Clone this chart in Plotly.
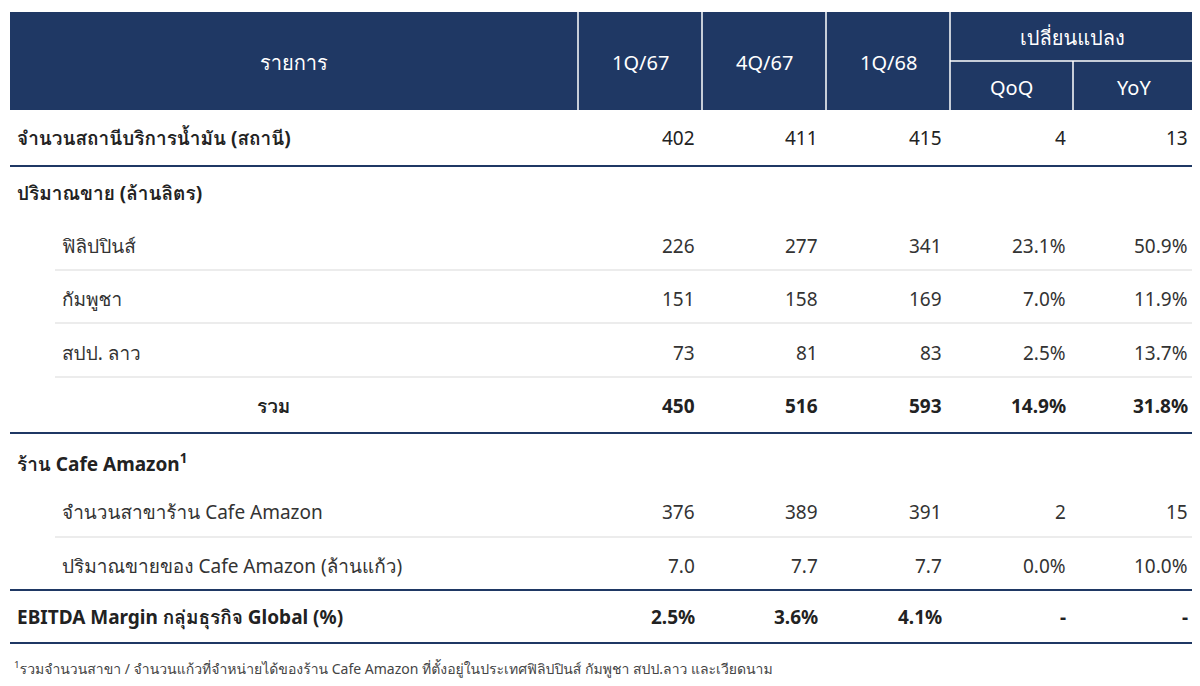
import plotly.graph_objects as go

# ── Data ──────────────────────────────────────────────────────────────────────
periods = ["1Q/67", "4Q/67", "1Q/68"]
changes = ["QoQ", "YoY"]
row_labels = [
    "จำนวนสถานีบริการน้ำมัน (สถานี)",
    "ปริมาณขาย (ล้านลิตร)",
    "ฟิลิปปินส์",
    "กัมพูชา",
    "สปป. ลาว",
    "รวม",
    "ร้าน Cafe Amazon<sup>1</sup>",
    "จำนวนสาขาร้าน Cafe Amazon",
    "ปริมาณขายของ Cafe Amazon (ล้านแก้ว)",
    "EBITDA Margin กลุ่มธุรกิจ Global (%)",
]
values = [
    ["402", "411", "415", "4", "13"],
    [],
    ["226", "277", "341", "23.1%", "50.9%"],
    ["151", "158", "169", "7.0%", "11.9%"],
    ["73", "81", "83", "2.5%", "13.7%"],
    ["450", "516", "593", "14.9%", "31.8%"],
    [],
    ["376", "389", "391", "2", "15"],
    ["7.0", "7.7", "7.7", "0.0%", "10.0%"],
    ["2.5%", "3.6%", "4.1%", "-", "-"],
]
footnote = ("<sup>1</sup>รวมจำนวนสาขา / จำนวนแก้วที่จำหน่ายได้ของร้าน Cafe Amazon "
            "ที่ตั้งอยู่ในประเทศฟิลิปปินส์ กัมพูชา สปป.ลาว และเวียดนาม")

# ── Styling / layout ──────────────────────────────────────────────────────────
NAVY = "#1f3864"
TXT = "#333333"
GREY = "#d9d9d9"
FONT = "Noto Sans, Loma, Garuda, Tahoma, sans-serif"
row_y = [138, 193, 246, 299, 353, 406, 463, 512, 566, 617]
row_indent = [15, 15, 60, 60, 60, 255, 15, 60, 60, 15]
row_bold = [True, True, False, False, False, True, True, False, False, True]
col_right = [697, 820, 944, 1068, 1190]
col_sep = [578, 702, 826, 950, 1073, 1195]
navy_lines = [166, 433, 590, 643]
grey_lines = [270, 323, 377, 537]
PAD = 8  # page body margin

fig = go.Figure()
shapes = [dict(type="rect", x0=10, x1=1195, y0=12, y1=110, fillcolor=NAVY, line_width=0, layer="below")]
for x in col_sep[:-1]:
    y0 = 12 if x != 1073 else 61
    shapes.append(dict(type="line", x0=x, x1=x, y0=y0, y1=110, line=dict(color="white", width=1.5)))
shapes.append(dict(type="line", x0=950, x1=1195, y0=61, y1=61, line=dict(color="white", width=1.5)))
for y in navy_lines:
    shapes.append(dict(type="line", x0=10, x1=1195, y0=y, y1=y, line=dict(color=NAVY, width=2)))
for y in grey_lines:
    shapes.append(dict(type="line", x0=55, x1=1195, y0=y, y1=y, line=dict(color=GREY, width=1)))

ann = []
hdr = dict(showarrow=False, font=dict(family=FONT, size=20, color="white"), xanchor="center", yanchor="middle")
ann.append(dict(x=294, y=62, text="รายการ", **hdr))
for i, p in enumerate(periods):
    ann.append(dict(x=(col_sep[i] + col_sep[i + 1]) / 2, y=62, text=p, **hdr))
ann.append(dict(x=1072, y=37, text="เปลี่ยนแปลง", **hdr))
ann.append(dict(x=1011, y=87, text=changes[0], **hdr))
ann.append(dict(x=1134, y=87, text=changes[1], **hdr))

for lbl, y, ind, b, vals in zip(row_labels, row_y, row_indent, row_bold, values):
    t = f"<b>{lbl}</b>" if b else lbl
    ann.append(dict(x=ind, y=y, text=t, showarrow=False, xanchor="left", yanchor="middle",
                    font=dict(family=FONT, size=19, color="#222" if b else TXT)))
    for v, x in zip(vals, col_right):
        ann.append(dict(x=x, y=y, text=f"<b>{v}</b>" if b and lbl != row_labels[0] else v,
                        showarrow=False, xanchor="right", yanchor="middle",
                        font=dict(family=FONT, size=19, color="#222" if b else TXT)))
ann.append(dict(x=12, y=668, text=footnote, showarrow=False, xanchor="left", yanchor="middle",
                font=dict(family=FONT, size=14, color="#444")))

fig.update_layout(
    width=1200 - 2 * PAD, height=686 - 2 * PAD, margin=dict(l=0, r=0, t=0, b=0),
    paper_bgcolor="white", plot_bgcolor="white",
    xaxis=dict(range=[PAD, 1200 - PAD], visible=False, fixedrange=True),
    yaxis=dict(range=[686 - PAD, PAD], visible=False, fixedrange=True),
    shapes=shapes, annotations=ann, showlegend=False,
)
fig.write_html("out.html")
